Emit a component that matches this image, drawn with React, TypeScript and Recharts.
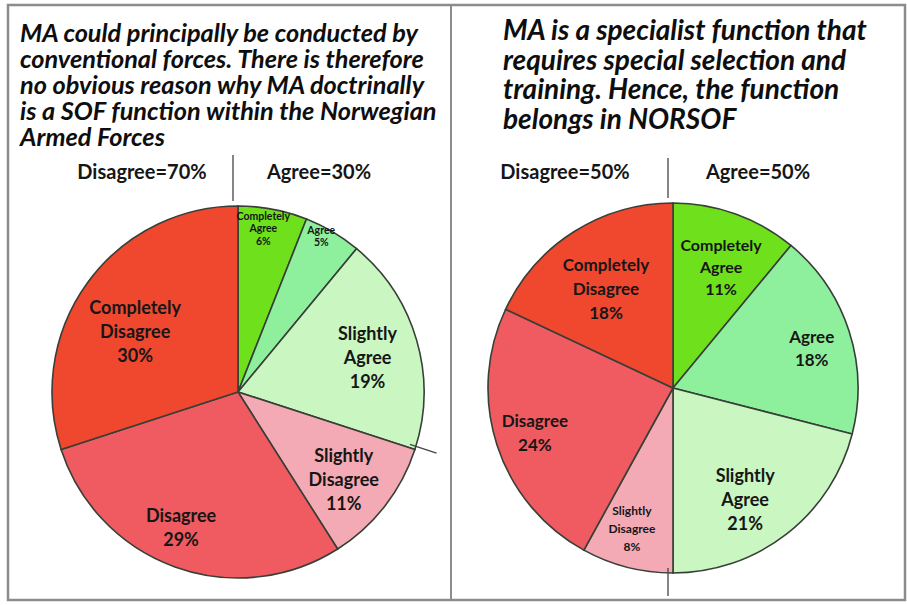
import React from 'react'
import { PieChart, Pie, Cell } from 'recharts'

// answer categories, clockwise from 12 o'clock
const categories = [
  'Completely Agree', 'Agree', 'Slightly Agree',
  'Slightly Disagree', 'Disagree', 'Completely Disagree',
]
const labelWords = [
  ['Completely', 'Agree'], ['Agree'], ['Slightly', 'Agree'],
  ['Slightly', 'Disagree'], ['Disagree'], ['Completely', 'Disagree'],
]
const isAgree = [true, true, true, false, false, false]

// % of respondents
const conventionalValues = [6, 5, 19, 11, 29, 30]
const specialistValues = [11, 18, 21, 8, 24, 18]

const leftTitle = [
  'MA could principally be conducted by',
  'conventional forces. There is therefore',
  'no obvious reason why MA doctrinally',
  'is a SOF function within the Norwegian',
  'Armed Forces',
]
const rightTitle = [
  'MA is a specialist function that',
  'requires special selection and',
  'training. Hence, the function',
  'belongs in NORSOF',
]

const COLORS: Record<string, string> = {
  'Completely Agree': '#6fe01c',
  'Agree': '#8ef09d',
  'Slightly Agree': '#caf6c2',
  'Slightly Disagree': '#f3aab4',
  'Disagree': '#ef5b60',
  'Completely Disagree': '#f0472f',
}

const FONT = 'Lato, "Open Sans", sans-serif'
const RAD = Math.PI / 180
const W = 907
const H = 605

// label placement: radius fraction, angle nudge (deg), font size, line height
type LabelPos = { k: number; da: number; fs: number; lh: number }
const leftLabelPos: LabelPos[] = [
  { k: 0.89, da: 2, fs: 10.5, lh: 12.5 },
  { k: 0.95, da: 2.5, fs: 10.5, lh: 12.5 },
  { k: 0.72, da: -1.5, fs: 18, lh: 24 },
  { k: 0.74, da: -2, fs: 18, lh: 24 },
  { k: 0.79, da: -3, fs: 18, lh: 24 },
  { k: 0.64, da: 5.8, fs: 18, lh: 24 },
]
const rightLabelPos: LabelPos[] = [
  { k: 0.7, da: -2, fs: 16, lh: 22 },
  { k: 0.78, da: -2, fs: 17, lh: 23 },
  { k: 0.72, da: -5, fs: 18, lh: 24 },
  { k: 0.795, da: -1.8, fs: 12, lh: 18 },
  { k: 0.785, da: 0, fs: 17, lh: 24 },
  { k: 0.646, da: 1.7, fs: 17, lh: 24 },
]

const panels = [
  { values: conventionalValues, cx: 233, cy: 387, r: 186, labels: leftLabelPos, title: leftTitle, titleX: 20, titleY: 19, titleFs: 25.3, titleLh: 26, divTop: 155, headY: 172, headOff: [-91, 86] },
  { values: specialistValues, cx: 668, cy: 383, r: 185, labels: rightLabelPos, title: rightTitle, titleX: 503, titleY: 15, titleFs: 28, titleLh: 29.5, divTop: 158, headY: 172, headOff: [-103, 90] },
]

const makeLabel = (pos: LabelPos[]) => (props: any) => {
  const { cx, cy, midAngle, outerRadius, index, value } = props
  const p = pos[index]
  const a = (midAngle + p.da) * RAD
  const x = cx + outerRadius * p.k * Math.cos(a)
  const y = cy - outerRadius * p.k * Math.sin(a)
  const lines = [...labelWords[index], `${value}%`]
  const y0 = y - ((lines.length - 1) * p.lh) / 2 + p.fs * 0.35
  return (
    <text x={x} y={y0} textAnchor="middle" fontSize={p.fs} fontWeight={700} fill="#161616" fontFamily={FONT}>
      {lines.map((t, i) => (
        <tspan key={i} x={x} y={y0 + i * p.lh}>{t}</tspan>
      ))}
    </text>
  )
}

export default function App() {
  return (
    <div style={{ position: 'absolute', left: 0, top: 0, width: W, height: H, background: '#fff', fontFamily: FONT }}>
      <PieChart width={W} height={H}>
        {panels.map((p, pi) => (
          <Pie
            key={pi}
            data={categories.map((name, i) => ({ name, value: p.values[i] }))}
            dataKey="value"
            nameKey="name"
            cx={p.cx}
            cy={p.cy}
            outerRadius={p.r}
            startAngle={90}
            endAngle={-270}
            stroke="#373f37"
            strokeWidth={1.6}
            label={makeLabel(p.labels)}
            labelLine={false}
            isAnimationActive={false}
          >
            {categories.map((c) => <Cell key={c} fill={COLORS[c]} />)}
          </Pie>
        ))}
      </PieChart>

      <svg width={W} height={H} style={{ position: 'absolute', left: 0, top: 0, pointerEvents: 'none' }}>
        <rect x={8} y={5} width={897} height={595} fill="none" stroke="#8c8c8c" strokeWidth={2.5} />
        <line x1={451} y1={5} x2={451} y2={600} stroke="#8c8c8c" strokeWidth={2} />
        {panels.map((p, pi) => {
          const agree = p.values.reduce((s, v, i) => s + (isAgree[i] ? v : 0), 0)
          const a = (90 - agree * 3.6) * RAD
          const ext = 28
          return (
            <g key={pi}>
              <line x1={p.cx} y1={p.divTop} x2={p.cx} y2={p.cy - p.r} stroke="#444" strokeWidth={1.3} />
              <line
                x1={p.cx + p.r * Math.cos(a)} y1={p.cy - p.r * Math.sin(a)}
                x2={p.cx + (p.r + ext) * Math.cos(a)} y2={p.cy - (p.r + ext) * Math.sin(a)}
                stroke="#444" strokeWidth={1.3}
              />
              <text x={p.cx + p.headOff[0]} y={p.headY + 7} textAnchor="middle" fontSize={20} fontWeight={700} fill="#161616" fontFamily={FONT}>
                {`Disagree=${100 - agree}%`}
              </text>
              <text x={p.cx + p.headOff[1]} y={p.headY + 7} textAnchor="middle" fontSize={20} fontWeight={700} fill="#161616" fontFamily={FONT}>
                {`Agree=${agree}%`}
              </text>
            </g>
          )
        })}
      </svg>

      {panels.map((p, pi) => (
        <div
          key={pi}
          style={{
            position: 'absolute', left: p.titleX, top: p.titleY,
            fontSize: p.titleFs, lineHeight: `${p.titleLh}px`, fontWeight: 700, fontStyle: 'italic',
            color: '#0e0e0e', whiteSpace: 'nowrap',
          }}
        >
          {p.title.map((t, i) => <div key={i}>{t}</div>)}
        </div>
      ))}
    </div>
  )
}
